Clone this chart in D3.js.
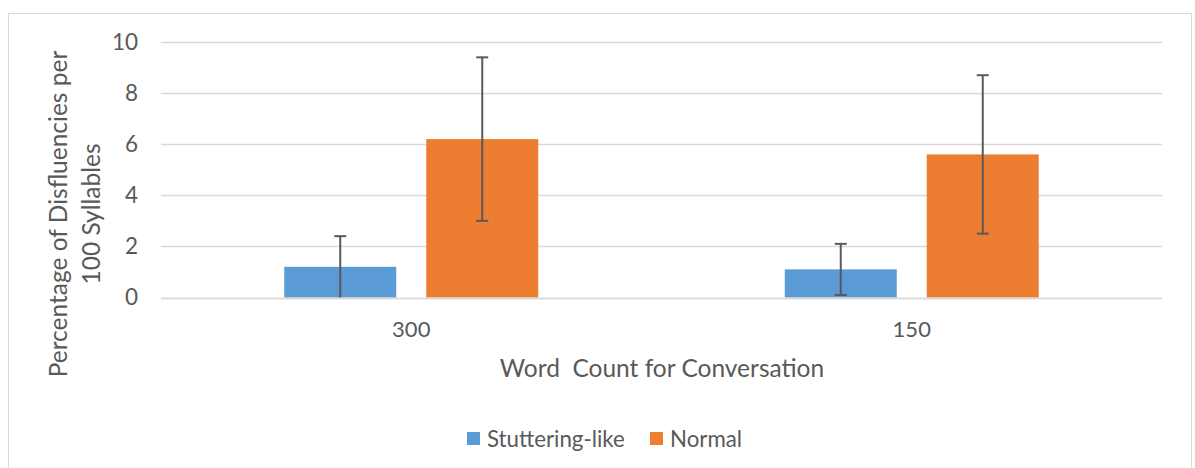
<!DOCTYPE html>
<html>
<head>
<meta charset="utf-8">
<script src="https://cdn.jsdelivr.net/npm/d3@7"></script>
<style>
  html, body { margin: 0; padding: 0; background: #fff; }
  svg { display: block; }
  text { font-family: Lato, "Open Sans", sans-serif; fill: #595959; }
</style>
</head>
<body>
<svg id="chart" width="1195" height="468"></svg>
<script>
const categories = ["300", "150"];
const seriesNames = ["Stuttering-like", "Normal"];
const stutteringValues = [1.2, 1.1];
const stutteringErrors = [1.2, 1.0];
const normalValues = [6.2, 5.6];
const normalErrors = [3.2, 3.1];
const yTicks = [0, 2, 4, 6, 8, 10];
const colors = ["#5b9bd5", "#ed7d31"];
const xTitle = "Word  Count for Conversation";
const yTitleLines = ["Percentage of Disfluencies per", "100 Syllables"];

const series = [
  { name: seriesNames[0], values: stutteringValues, errors: stutteringErrors, color: colors[0] },
  { name: seriesNames[1], values: normalValues, errors: normalErrors, color: colors[1] }
];

const svg = d3.select("#chart");

// chart area border
svg.append("rect")
  .attr("x", 8.5).attr("y", 13.5)
  .attr("width", 1183).attr("height", 470)
  .attr("fill", "#fff").attr("stroke", "#d9d9d9").attr("stroke-width", 1);

const plot = { left: 161, right: 1162, top: 42, bottom: 297.5 };

const y = d3.scaleLinear().domain([0, 10]).range([plot.bottom, plot.top]);
const x0 = d3.scaleBand().domain(categories).range([plot.left, plot.right]).paddingInner(0).paddingOuter(0);
const barW = 112, gapW = 30;
const groupW = barW * 2 + gapW;
const x1 = d3.scaleBand().domain(seriesNames).range([0, groupW]).paddingInner(gapW / (barW + gapW)).paddingOuter(0);

// gridlines
svg.append("g").selectAll("line").data(yTicks).join("line")
  .attr("x1", plot.left).attr("x2", plot.right)
  .attr("y1", d => Math.round(y(d)) + 0.5).attr("y2", d => Math.round(y(d)) + 0.5)
  .attr("stroke", "#d9d9d9").attr("stroke-width", 1.3);

// y tick labels via axis
const yAxis = d3.axisLeft(y).tickValues(yTicks).tickSize(0).tickPadding(0);
const yg = svg.append("g").attr("transform", "translate(138,0)").call(yAxis);
yg.select(".domain").remove();
yg.selectAll("text").attr("font-size", 22.5).attr("fill", "#595959")
  .style("font-family", "Lato, 'Open Sans', sans-serif");

// bars
const groups = svg.append("g").selectAll("g").data(categories).join("g")
  .attr("transform", d => `translate(${x0(d) + (x0.bandwidth() - groupW) / 2},0)`);

groups.selectAll("rect").data((c, i) => series.map(s => ({ s, v: s.values[i] }))).join("rect")
  .attr("x", d => x1(d.s.name)).attr("width", x1.bandwidth())
  .attr("y", d => y(d.v)).attr("height", d => y(0) - y(d.v))
  .attr("fill", d => d.s.color);

// error bars
groups.each(function (c, i) {
  const g = d3.select(this);
  series.forEach(s => {
    const cx = x1(s.name) + x1.bandwidth() / 2;
    const hi = s.values[i] + s.errors[i];
    const lo = s.values[i] - s.errors[i];
    const eg = g.append("g").attr("stroke", "#595959").attr("stroke-width", 2);
    eg.append("line").attr("x1", cx).attr("x2", cx).attr("y1", y(hi)).attr("y2", y(Math.max(lo, 0)));
    eg.append("line").attr("x1", cx - 6).attr("x2", cx + 6).attr("y1", y(hi)).attr("y2", y(hi));
    if (lo > 0.05) {
      eg.append("line").attr("x1", cx - 6).attr("x2", cx + 6).attr("y1", y(lo)).attr("y2", y(lo));
    }
  });
});

// x axis baseline
svg.append("line").attr("x1", plot.left).attr("x2", plot.right)
  .attr("y1", Math.round(y(0)) + 0.5).attr("y2", Math.round(y(0)) + 0.5)
  .attr("stroke", "#d9d9d9").attr("stroke-width", 1.3);

// category labels via axis
const xAxis = d3.axisBottom(x0).tickSize(0).tickPadding(0);
const xg = svg.append("g").attr("transform", "translate(0,337)").call(xAxis);
xg.select(".domain").remove();
xg.selectAll("text").attr("dy", 0).attr("font-size", 22).attr("fill", "#595959")
  .style("font-family", "Lato, 'Open Sans', sans-serif");

// x title
svg.append("text").attr("x", 662).attr("y", 377).attr("text-anchor", "middle")
  .attr("font-size", 24.5).attr("xml:space", "preserve").style("white-space", "pre").text(xTitle);

// y title
const yt = svg.append("text").attr("transform", "translate(0,214) rotate(-90)")
  .attr("text-anchor", "middle").attr("font-size", 24.5);
yt.selectAll("tspan").data(yTitleLines).join("tspan")
  .attr("x", 0).attr("y", (d, i) => 67 + i * 33).text(d => d);

// legend
const legendX = [467, 650];
const lg = svg.append("g").selectAll("g").data(series).join("g")
  .attr("transform", (d, i) => `translate(${legendX[i]},432)`);
lg.append("rect").attr("width", 13).attr("height", 13).attr("fill", d => d.color);
lg.append("text").attr("x", 20).attr("y", 7).attr("dy", "0.35em").attr("font-size", 22.3).text(d => d.name);
</script>
</body>
</html>
